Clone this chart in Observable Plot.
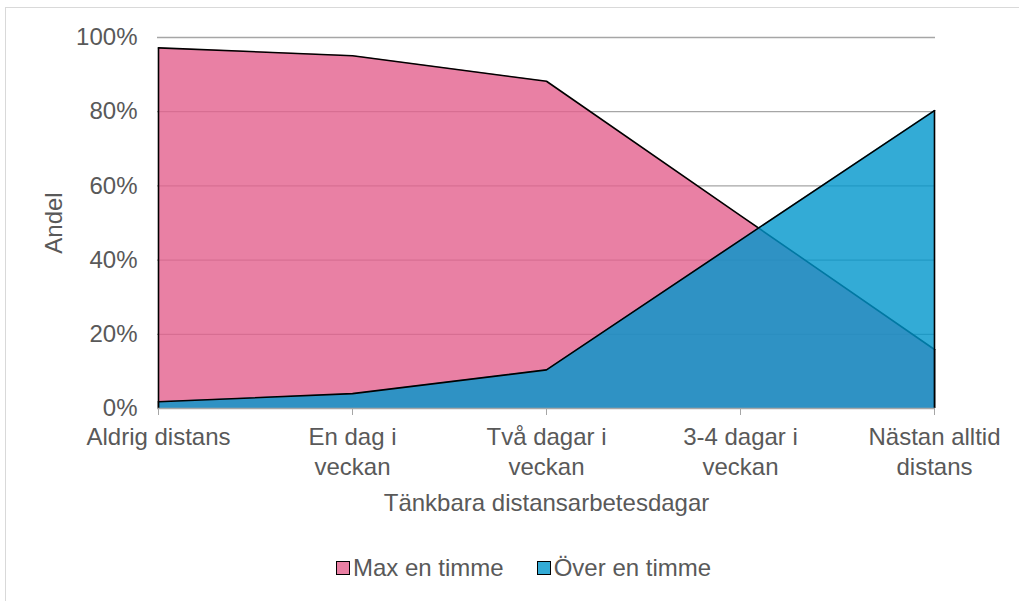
<!DOCTYPE html>
<html>
<head>
<meta charset="utf-8">
<script src="https://cdn.jsdelivr.net/npm/d3@7"></script>
<script src="https://cdn.jsdelivr.net/npm/@observablehq/plot@0.6"></script>
<style>
  html, body { margin: 0; padding: 0; background: #fff; }
  #wrap { position: relative; width: 1019px; height: 601px; overflow: hidden; font-family: "Liberation Sans", Arial, sans-serif; }
  #border { position: absolute; left: 5px; top: 7px; width: 1100px; height: 700px; border: 1px solid #D9D9D9; box-sizing: border-box; }
  #chart { position: absolute; left: 0; top: 0; }
  #legend { position: absolute; left: 336px; top: 555px; display: flex; align-items: center; font-size: 24px; line-height: 26px; color: #595959; white-space: nowrap; }
  .item { display: flex; align-items: center; }
  .sw { width: 14px; height: 14px; box-sizing: border-box; border: 1.5px solid #000; margin-right: 3px; }
</style>
</head>
<body>
<div id="wrap">
  <div id="border"></div>
  <div id="chart"></div>
  <div id="legend"></div>
</div>
<script>
const categories = ["Aldrig distans", "En dag i veckan", "Två dagar i veckan", "3-4 dagar i veckan", "Nästan alltid distans"];
const tickLabels = ["Aldrig distans", "En dag i\nveckan", "Två dagar i\nveckan", "3-4 dagar i\nveckan", "Nästan alltid\ndistans"];
const seriesNames = ["Max en timme", "Över en timme"];
const maxEnTimme = [97.2, 95.1, 88.2, 52.0, 15.9];
const overEnTimme = [1.8, 4.0, 10.4, 45.4, 80.3];
const yTicks = [0, 20, 40, 60, 80, 100];
const yLabel = "Andel";
const xLabel = "Tänkbara distansarbetesdagar";

const pink = categories.map((c, i) => ({cat: c, v: maxEnTimme[i]}));
const blue = categories.map((c, i) => ({cat: c, v: overEnTimme[i]}));
const ends = arr => [arr[0], arr[arr.length - 1]];

const txt = "#595959";
const gridCol = "#A6A6A6";
const fs = 24;

const plot = Plot.plot({
  width: 1019,
  height: 540,
  marginTop: 37,
  marginLeft: 157,
  marginRight: 84,
  marginBottom: 132,
  style: {fontFamily: "Liberation Sans, Arial, sans-serif", background: "transparent", overflow: "visible"},
  x: {type: "point", domain: categories, padding: 0},
  y: {domain: [0, 100]},
  marks: [
    Plot.gridY(yTicks.filter(d => d > 0), {stroke: gridCol, strokeOpacity: 1, strokeWidth: 1.3}),
    Plot.areaY(pink, {x: "cat", y: "v", fill: "#E4608D", fillOpacity: 0.8}),
    Plot.lineY(pink, {x: "cat", y: "v", stroke: "#000", strokeWidth: 1.6}),
    Plot.ruleX(ends(pink), {x: "cat", y1: 0, y2: "v", stroke: "#000", strokeWidth: 1.6}),
    Plot.areaY(blue, {x: "cat", y: "v", fill: "#0096CC", fillOpacity: 0.8}),
    Plot.lineY(blue, {x: "cat", y: "v", stroke: "#000", strokeWidth: 1.6}),
    Plot.ruleX(ends(blue), {x: "cat", y1: 0, y2: "v", stroke: "#000", strokeWidth: 1.6}),
    Plot.ruleY([0], {stroke: gridCol, strokeWidth: 1.3}),
    Plot.axisX({
      tickSize: 7, tickPadding: 8, stroke: gridCol, fill: txt, fontSize: fs, lineHeight: 1.25,
      tickFormat: d => tickLabels[categories.indexOf(d)], label: null
    }),
    Plot.axisY({
      ticks: yTicks, tickSize: 0, tickPadding: 20, fill: txt, fontSize: fs,
      tickFormat: d => d + "%", label: null
    }),
    Plot.text([yLabel], {text: d => d, frameAnchor: "left", dx: -103.5, rotate: -90, textAnchor: "middle", lineAnchor: "middle", fontSize: fs, fill: txt}),
    Plot.text([xLabel], {text: d => d, frameAnchor: "bottom", dy: 95, textAnchor: "middle", lineAnchor: "middle", fontSize: fs, fill: txt})
  ]
});
document.getElementById("chart").appendChild(plot);

const legendColors = ["#E97FA3", "#33ABD6"];
const legend = document.getElementById("legend");
seriesNames.forEach((name, i) => {
  const item = document.createElement("div");
  item.className = "item";
  if (i > 0) item.style.marginLeft = "33px";
  const sw = document.createElement("div");
  sw.className = "sw";
  sw.style.background = legendColors[i];
  const t = document.createElement("span");
  t.textContent = name;
  item.appendChild(sw);
  item.appendChild(t);
  legend.appendChild(item);
});
</script>
</body>
</html>
